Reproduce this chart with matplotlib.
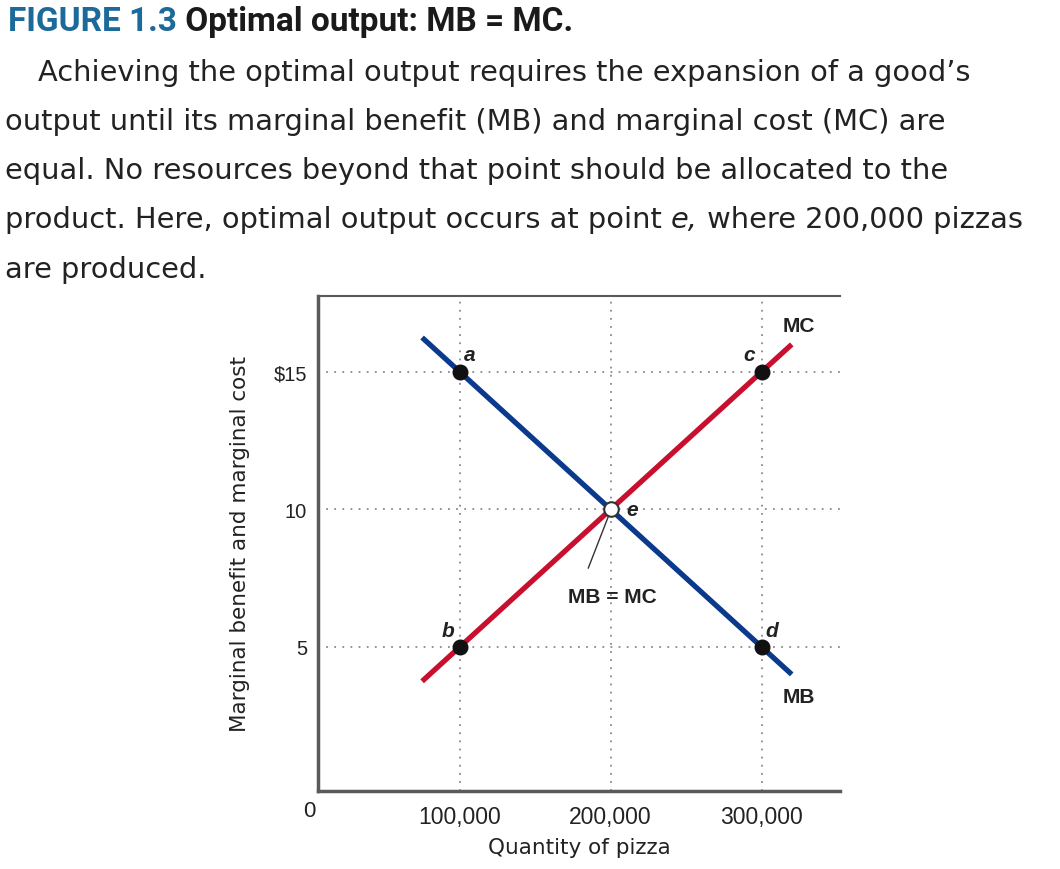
import matplotlib.pyplot as plt

# data
quantity = [75000, 320000]
mb_values = [16.25, 4.0]
mc_values = [3.75, 16.0]
point_names = ['a', 'b', 'c', 'd']
point_q = [100000, 100000, 300000, 300000]
point_p = [15, 5, 15, 5]
eq_q = 200000
eq_p = 10
x_ticks = [100000, 200000, 300000]
x_tick_labels = ['100,000', '200,000', '300,000']
y_ticks = [5, 10, 15]
y_tick_labels = ['5', '10', '$15']

blue = '#0b3a8c'
red = '#c8102e'
grey_axis = '#5a5a5a'
W, H = 1060, 870

fig = plt.figure(figsize=(10.6, 8.7), dpi=100)


def text_after(prev, s, **kw):
    # put a piece of text right after the previous one on the same line
    fig.canvas.draw()
    bb = prev.get_window_extent()
    return fig.text(bb.x1 / W, prev.get_position()[1], s, va='center', ha='left', **kw)


# header text
t = fig.text(8 / W, 1 - 22 / H, 'FIGURE 1.3', color='#1b6a9a', fontsize=24,
             family='Roboto', weight='semibold', va='center', ha='left')
text_after(t, ' Optimal output: MB = MC.', color='#1a1a1a', fontsize=24,
           family='Roboto', weight='bold')

pfont = dict(fontsize=20.8, family='DejaVu Sans', color='#222222')
para = [
    (38, 73, 'Achieving the optimal output requires the expansion of a good\u2019s'),
    (5, 122, 'output until its marginal benefit (MB) and marginal cost (MC) are'),
    (5, 171, 'equal. No resources beyond that point should be allocated to the'),
    (5, 270, 'are produced.'),
]
for px, py, s in para:
    fig.text(px / W, 1 - py / H, s, va='center', ha='left', **pfont)

t = fig.text(5 / W, 1 - 220 / H, 'product. Here, optimal output occurs at point ',
             va='center', ha='left', **pfont)
t = text_after(t, 'e,', style='italic', **pfont)
text_after(t, ' where 200,000 pizzas', **pfont)

# chart
ax = fig.add_axes([318 / W, 1 - 792 / H, 522 / W, 495 / H])
ax.set_xlim(6000, 352000)
ax.set_ylim(-0.24, 17.76)

for q in x_ticks:
    ax.axvline(q, color='#8a8a8a', lw=1.3, ls=(0, (1, 3.5)), zorder=1)
for p in y_ticks:
    ax.axhline(p, color='#8a8a8a', lw=1.3, ls=(0, (1, 3.5)), zorder=1)

ax.plot(quantity, mb_values, color=blue, lw=3.8, solid_capstyle='butt', zorder=3)
ax.plot(quantity, mc_values, color=red, lw=3.8, solid_capstyle='butt', zorder=3)

ax.scatter(point_q, point_p, s=110, color='#111111', zorder=5)
ax.scatter([eq_q], [eq_p], s=110, facecolor='white', edgecolor='#333333', lw=1.5, zorder=5)

label_pos = {'a': (106500, 15.65), 'b': (92000, 5.6), 'c': (292000, 15.65), 'd': (306500, 5.6)}
for name in point_names:
    lx, ly = label_pos[name]
    ax.text(lx, ly, name, fontsize=15, style='italic', weight='bold', family='Liberation Sans',
            color='#222222', ha='center', va='center')
ax.text(214000, 10.0, 'e', fontsize=15, style='italic', weight='bold', family='Liberation Sans',
        color='#222222', ha='center', va='center')

ax.annotate('MB = MC', xy=(198500, 9.75), xytext=(201000, 6.85), fontsize=15,
            family='Liberation Sans', weight='bold', color='#222222', ha='center', va='center',
            arrowprops=dict(arrowstyle='-', color='#333333', lw=1.0,
                            shrinkA=12, shrinkB=0, relpos=(0.15, 1.0)))

ax.text(325000, 16.7, 'MC', fontsize=15, family='Liberation Sans', weight='bold',
        color='#222222', ha='center', va='center')
ax.text(325000, 3.2, 'MB', fontsize=15, family='Liberation Sans', weight='bold',
        color='#222222', ha='center', va='center')

ax.spines['right'].set_visible(False)
for side in ['left', 'bottom', 'top']:
    ax.spines[side].set_color(grey_axis)
    ax.spines[side].set_linewidth(2.5)
ax.spines['top'].set_linewidth(1.5)

ax.set_xticks(x_ticks)
ax.set_xticklabels(x_tick_labels, family='Liberation Sans', fontsize=16.5, color='#222222')
ax.set_yticks(y_ticks)
ax.set_yticklabels(y_tick_labels, family='Liberation Sans', fontsize=14.5, color='#222222')
ax.tick_params(axis='both', length=0)
ax.tick_params(axis='x', pad=10)
ax.tick_params(axis='y', pad=8)

ax.text(-0.017, -0.04, '0', transform=ax.transAxes, family='Liberation Sans',
        fontsize=16, color='#222222', ha='center', va='center')

ax.set_xlabel('Quantity of pizza', family='DejaVu Sans', fontsize=15.5, color='#222222')
ax.xaxis.set_label_coords(0.5, -0.092)
ax.set_ylabel('Marginal benefit and marginal cost', family='DejaVu Sans', fontsize=15.5,
              color='#222222')
ax.yaxis.set_label_coords(-0.13, 0.5)

fig.savefig('out.png', dpi=100)
